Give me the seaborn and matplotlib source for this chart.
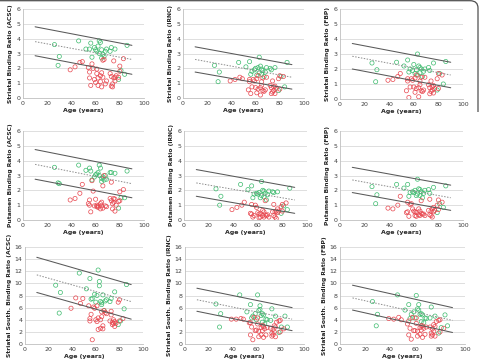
import numpy as np
import pandas as pd
import matplotlib
matplotlib.use("Agg")
import matplotlib.pyplot as plt
from matplotlib.path import Path
from matplotlib.patches import PathPatch
import seaborn as sns

# Возраст испытуемых (одинаковый во всех панелях)
green_age = [26, 29, 30, 46, 52, 55, 56, 57, 59, 60, 61, 62, 63, 63, 64, 65, 65, 66, 67, 68, 69,
             72, 73, 76, 79, 81, 84, 86]
red_age = [39, 43, 47, 49, 54, 55, 55, 56, 57, 58, 59, 60, 61, 61, 62, 62, 64, 64, 65, 65, 66, 66,
           67, 68, 69, 72, 73, 73, 74, 74, 75, 75, 76, 76, 77, 79, 80, 80, 83]

y_labels = ['Striatal Binding Ratio (ACSC)', 'Striatal Binding Ratio (IRNC)', 'Striatal Binding Ratio (FBP)',
            'Putamen Binding Ratio (ACSC)', 'Putamen Binding Ratio (IRNC)', 'Putamen Binding Ratio (FBP)',
            'Striatal South. Binding Ratio (ACSC)', 'Striatal South. Binding Ratio (IRNC)',
            'Striatal South. Binding Ratio (FBP)']
y_max = [6, 6, 6, 6, 6, 6, 16, 16, 16]
y_step = [1, 1, 1, 1, 1, 1, 2, 2, 2]

green_vals = [
    [3.6, 2.2, 2.8, 3.85, 3.3, 3.3, 3.7, 2.75, 3.4, 3.25, 3.15, 3.5, 3.0, 3.85, 3.75, 3.25, 2.7, 2.95, 2.8, 3.15, 3.3,
     3.15, 3.4, 3.3, 1.25, 1.85, 1.6, 3.55],
    [2.2, 1.1, 1.75, 2.4, 2.1, 2.45, 1.6, 1.8, 1.9, 2.0, 1.55, 2.05, 2.75, 1.7, 2.15, 1.95, 1.6, 1.85, 1.45, 1.75, 2.05,
     2.0, 1.9, 2.05, 0.5, 1.45, 0.75, 2.4],
    [2.4, 1.15, 1.95, 2.45, 2.2, 2.6, 1.8, 2.0, 1.9, 2.3, 1.7, 1.95, 3.0, 1.6, 2.2, 2.1, 1.75, 2.0, 1.5, 1.85, 2.0,
     2.1, 1.9, 2.4, 0.6, 1.7, 1.0, 2.5],
    [3.55, 2.5, 2.45, 3.7, 3.35, 3.5, 3.3, 2.7, 2.9, 3.05, 3.1, 3.2, 3.7, 3.0, 3.5, 2.8, 2.6, 2.9, 2.7, 3.0, 2.75,
     3.2, 3.2, 3.15, 0.8, 1.5, 1.5, 3.3],
    [2.1, 1.0, 1.6, 2.4, 2.05, 2.3, 1.5, 1.75, 1.8, 1.75, 1.85, 1.5, 2.6, 1.65, 2.0, 1.95, 1.55, 1.8, 1.35, 1.7, 1.95,
     1.9, 1.85, 1.9, 0.45, 0.95, 0.7, 2.15],
    [2.25, 1.1, 1.7, 2.4, 2.15, 2.4, 1.6, 1.85, 1.9, 1.85, 2.0, 1.65, 2.75, 1.75, 2.1, 2.05, 1.65, 1.9, 1.5, 1.8, 2.0,
     2.05, 1.8, 2.2, 0.5, 1.1, 0.85, 2.3],
    [9.7, 5.1, 8.5, 11.7, 9.1, 10.8, 7.4, 7.5, 8.2, 6.9, 8.0, 12.2, 10.3, 9.6, 7.0, 6.5, 6.8, 8.1, 5.5, 7.1, 7.3,
     7.0, 7.5, 8.6, 3.2, 3.8, 5.8, 9.8],
    [6.6, 2.8, 5.0, 8.1, 5.3, 6.5, 4.3, 4.6, 5.0, 4.0, 8.1, 5.5, 6.3, 5.7, 4.7, 3.6, 5.0, 4.8, 3.3, 4.1, 4.0,
     3.9, 5.8, 4.6, 1.9, 2.8, 4.6, 2.8],
    [7.0, 3.0, 4.9, 8.1, 5.6, 6.5, 4.2, 4.9, 5.3, 4.3, 8.0, 5.8, 6.5, 5.6, 4.9, 3.7, 5.0, 4.8, 3.5, 4.3, 4.2,
     4.3, 6.1, 4.6, 1.8, 2.7, 4.8, 3.0],
]

red_vals = [
    [1.9, 2.1, 2.4, 2.45, 2.05, 1.75, 1.35, 0.85, 2.3, 2.0, 1.25, 1.05, 1.95, 1.65, 1.35, 0.85, 1.5, 1.1, 1.7, 0.75,
     1.4, 2.55, 2.6, 0.95, 1.15, 1.65, 1.45, 0.8, 0.95, 0.75, 1.35, 2.5, 1.15, 1.4, 1.5, 1.4, 2.15, 1.8, 2.65],
    [1.15, 1.25, 1.4, 1.3, 0.55, 1.1, 1.25, 0.3, 0.75, 1.25, 1.15, 0.7, 1.3, 0.35, 0.6, 1.5, 0.7, 0.2, 1.1, 0.85,
     0.5, 1.35, 0.45, 0.55, 1.4, 0.85, 0.3, 0.7, 1.15, 0.4, 0.75, 0.5, 0.3, 0.8, 0.65, 1.3, 1.5, 0.6, 1.45],
    [1.25, 1.3, 1.5, 1.7, 0.55, 1.2, 1.35, 0.1, 0.8, 1.35, 1.25, 0.8, 1.4, 0.45, 0.7, 1.6, 0.75, 0.15, 1.2, 0.95,
     0.55, 1.45, 0.5, 0.6, 1.45, 0.95, 0.35, 0.75, 1.2, 0.5, 0.8, 0.6, 0.4, 0.9, 0.7, 1.35, 1.7, 0.7, 1.6],
    [1.35, 1.45, 1.8, 2.4, 1.1, 1.0, 1.35, 0.55, 2.65, 1.95, 0.95, 1.4, 0.9, 1.0, 0.85, 0.95, 1.1, 0.75, 1.2, 0.95,
     2.3, 0.8, 3.0, 0.95, 0.9, 1.45, 2.55, 1.3, 1.1, 0.75, 1.45, 1.2, 0.6, 1.4, 1.0, 1.25, 1.9, 1.3, 2.05],
    [0.7, 0.85, 1.0, 1.2, 0.45, 0.4, 1.05, 0.2, 0.3, 1.0, 0.85, 0.5, 0.15, 0.4, 0.45, 0.2, 0.65, 0.3, 0.55, 0.2,
     1.3, 0.35, 0.3, 0.35, 0.2, 0.55, 1.05, 0.3, 0.55, 0.2, 0.6, 0.1, 0.75, 0.5, 0.6, 0.9, 1.05, 0.6, 1.15],
    [0.8, 0.75, 1.0, 1.6, 0.5, 0.55, 1.2, 0.25, 1.05, 1.1, 0.75, 0.6, 0.3, 0.55, 0.5, 0.25, 0.75, 0.35, 0.6, 0.3,
     1.3, 0.45, 0.4, 0.4, 0.3, 0.65, 1.4, 0.35, 0.6, 0.3, 0.75, 0.2, 0.85, 0.55, 0.65, 1.0, 1.35, 0.7, 1.2],
    [5.9, 7.6, 6.7, 7.5, 6.3, 4.2, 3.8, 4.9, 0.7, 6.1, 5.9, 4.0, 3.7, 6.3, 4.3, 2.4, 4.0, 2.6, 5.3, 4.5,
     3.0, 2.5, 5.5, 5.2, 5.0, 3.8, 4.8, 5.4, 3.2, 3.6, 3.4, 4.0, 3.7, 2.9, 3.4, 6.9, 7.3, 3.8, 4.2],
    [4.1, 4.1, 4.2, 4.1, 3.5, 3.5, 1.5, 2.8, 0.7, 4.4, 2.2, 2.3, 4.3, 3.3, 2.1, 1.2, 2.7, 1.5, 3.1, 2.2,
     1.1, 2.9, 2.5, 1.5, 2.7, 2.6, 1.3, 1.8, 2.4, 1.5, 3.0, 2.0, 2.8, 1.2, 3.6, 3.8, 3.9, 2.0, 2.5],
    [4.2, 4.1, 4.4, 4.0, 3.3, 3.8, 1.5, 2.6, 0.8, 4.4, 2.2, 2.2, 4.3, 3.4, 2.1, 1.3, 2.7, 1.6, 3.0, 2.3,
     1.1, 3.0, 2.6, 1.6, 2.8, 2.8, 1.3, 1.8, 2.5, 1.5, 3.2, 2.1, 2.9, 1.3, 3.7, 3.9, 4.0, 2.0, 2.6],
]

# Линии: значения при возрасте 10 и 90 (верхняя, средняя пунктирная, нижняя)
line_age = [10, 90]
upper_line = [[4.8, 3.55], [3.45, 2.25], [3.7, 2.45], [4.75, 3.45], [3.4, 2.2], [3.55, 2.35],
              [14.3, 9.8], [9.2, 6.0], [9.7, 6.0]]
mid_line = [[3.8, 2.6], [2.6, 1.4], [2.85, 1.6], [3.75, 2.45], [2.5, 1.35], [2.7, 1.5],
            [11.4, 7.0], [7.3, 4.1], [7.6, 3.9]]
lower_line = [[2.85, 1.6], [1.75, 0.6], [2.0, 0.75], [2.75, 1.5], [1.6, 0.45], [1.85, 0.65],
              [8.5, 4.1], [5.4, 2.2], [5.6, 1.9]]

# Положение осей в пикселях: x0, x1, верх, низ
boxes = [(23, 144, 9, 98), (183, 304, 9, 98), (340, 463, 9, 99),
         (23, 144, 131, 220), (184, 307, 131, 220), (340, 463, 131, 220),
         (25, 143, 247, 344), (185, 304, 247, 344), (340, 465, 247, 344)]

W, H = 481, 359
sns.set_style("white")
plt.rcParams['font.family'] = ['DejaVu Sans']
fig = plt.figure(figsize=(W / 100, H / 100), dpi=100)

green_c = '#3dbb6e'
red_c = '#e8474f'

for i in range(9):
    x0, x1, t, b = boxes[i]
    ax = fig.add_axes([x0 / W, 1 - b / H, (x1 - x0) / W, (b - t) / H])
    ticks = np.arange(0, y_max[i] + 0.1, y_step[i])
    for yv in ticks[1:]:
        ax.axhline(yv, color='#d9d9d9', lw=0.6, zorder=0)
    sns.scatterplot(x=green_age, y=green_vals[i], ax=ax, marker='o', s=9,
                    facecolor='none', edgecolor=green_c, linewidth=0.5, zorder=3)
    sns.scatterplot(x=red_age, y=red_vals[i], ax=ax, marker='o', s=9,
                    facecolor='none', edgecolor=red_c, linewidth=0.5, zorder=3)
    sns.lineplot(x=line_age, y=upper_line[i], ax=ax, color='#595959', lw=0.75, zorder=4)
    sns.lineplot(x=line_age, y=lower_line[i], ax=ax, color='#595959', lw=0.75, zorder=4)
    sns.lineplot(x=line_age, y=mid_line[i], ax=ax, color='#8c8c8c', lw=0.7,
                 linestyle=(0, (1.5, 1.5)), zorder=4)
    ax.set_xlim(0, 100)
    ax.set_ylim(0, y_max[i])
    ax.set_xticks(np.arange(0, 101, 20))
    ax.set_yticks(ticks)
    ax.tick_params(labelsize=4.5, length=0, pad=2, colors='#404040')
    for s in ['top', 'right']:
        ax.spines[s].set_visible(False)
    ax.spines['left'].set_color('#bfbfbf')
    ax.spines['bottom'].set_color('#bfbfbf')
    ax.spines['left'].set_linewidth(0.6)
    ax.spines['bottom'].set_linewidth(0.6)
    ax.set_xlabel('Age (years)', fontsize=4.5, fontweight='bold', labelpad=1.5)
    ax.set_ylabel(y_labels[i], fontsize=4.3, fontweight='bold', labelpad=2)

# линия по верху и скруглённый правый край рамки
px = lambda x, y: (x / W, 1 - y / H)
frame = Path([px(0, 0.7), px(470, 0.7), px(478, 0.7), px(478, 8), px(478, 112)],
             [Path.MOVETO, Path.LINETO, Path.CURVE3, Path.CURVE3, Path.LINETO])
fig.add_artist(PathPatch(frame, transform=fig.transFigure, fill=False, ec='#505050', lw=0.9))

fig.savefig('out.png', dpi=100)
